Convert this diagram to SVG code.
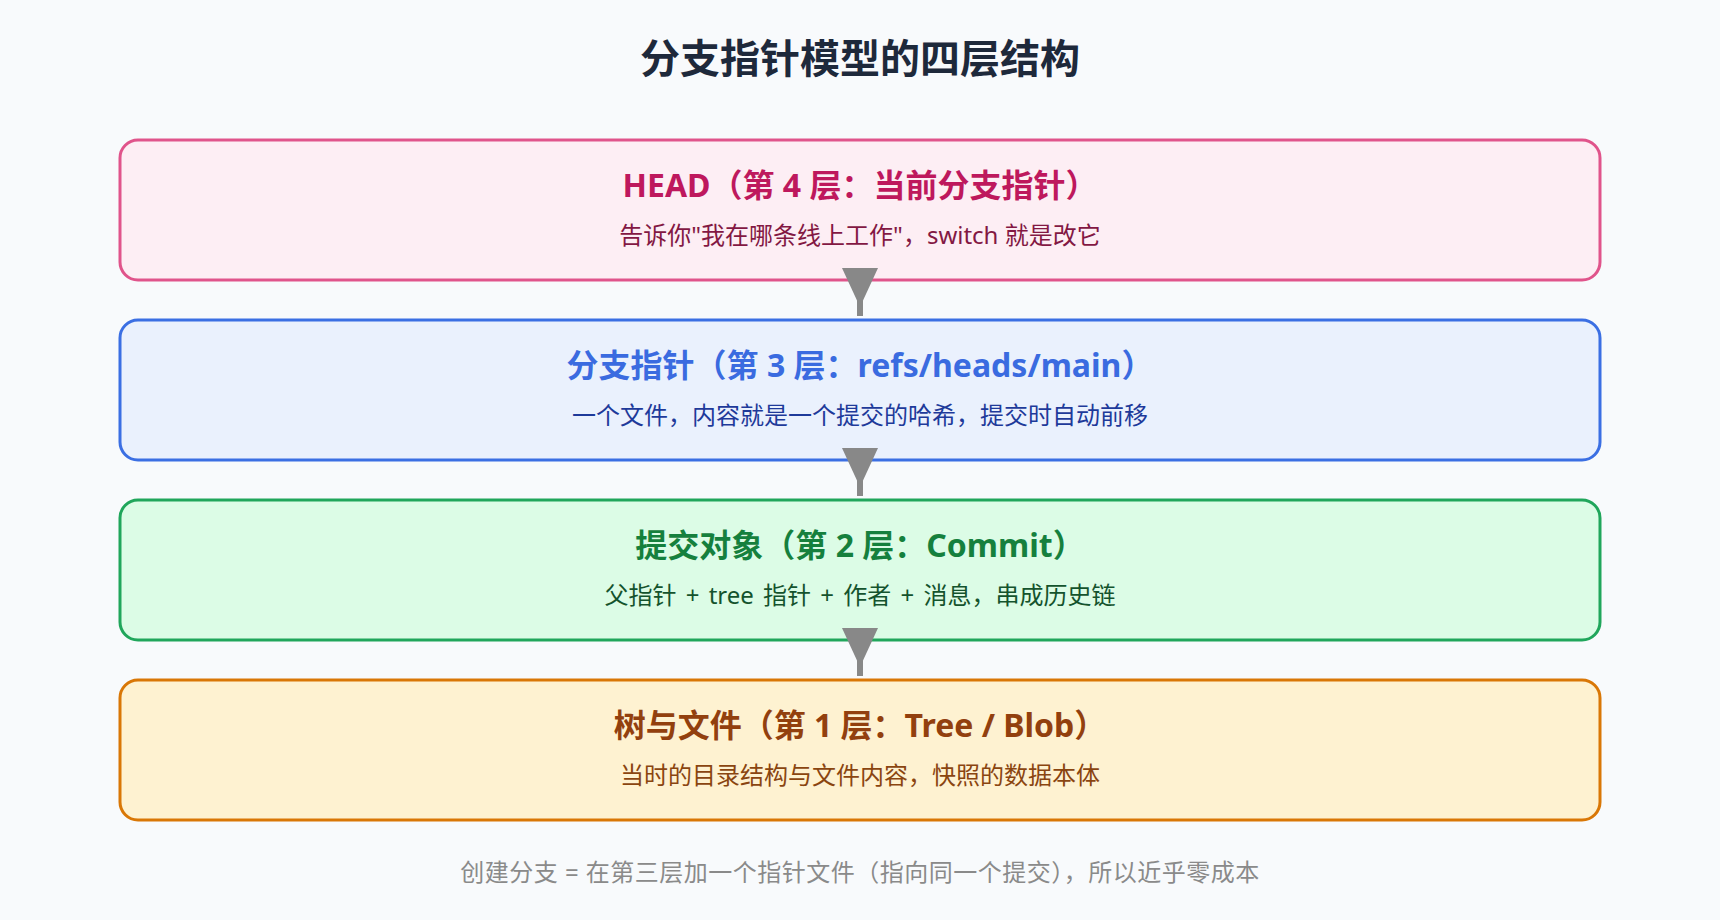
<svg xmlns="http://www.w3.org/2000/svg" width="1720" height="920" viewBox="0 0 1720 920">
  <defs>
    <marker id="arrowhead" markerUnits="userSpaceOnUse" markerWidth="40" markerHeight="36" viewBox="0 0 39 36" refX="0" refY="18" orient="auto">
      <path d="M0,0 L39,18 L0,36 z" fill="#888888"/>
    </marker>
    <style>
      text { font-family: "Noto Sans", "Noto Sans CJK SC", sans-serif; text-anchor: middle; }
      .title { font-size: 40px; font-weight: 700; fill: #1e293b; }
      .hdr { font-size: 32px; font-weight: 700; }
      .sub { font-size: 24px; font-weight: 400; }
      .foot { font-size: 24px; fill: #8a8a8a; letter-spacing: 0.5px; }
      .box { stroke-width: 3; }
      .conn { stroke: #888888; stroke-width: 6; fill: none; }
    </style>
  </defs>
  <rect x="0" y="0" width="1720" height="920" fill="#f8fafc"/>
  <text class="title" x="860" y="73">分支指针模型的四层结构</text>

  <g id="layer4-head">
    <rect class="box" x="120" y="140" width="1480" height="140" rx="18" fill="#fdeef4" stroke="#e0548b"/>
    <text class="hdr" x="860" y="197" fill="#be185d">HEAD（第 4 层：当前分支指针）</text>
    <text class="sub" x="860" y="244" fill="#831843">告诉你"我在哪条线上工作"，switch 就是改它</text>
  </g>

  <g id="layer3-branch">
    <rect class="box" x="120" y="320" width="1480" height="140" rx="18" fill="#eaf1fd" stroke="#3b6fe3"/>
    <text class="hdr" x="860" y="377" fill="#3a6be0">分支指针（第 3 层：refs/heads/main）</text>
    <text class="sub" x="860" y="424" fill="#1e3a9a">一个文件，内容就是一个提交的哈希，提交时自动前移</text>
  </g>

  <g id="layer2-commit">
    <rect class="box" x="120" y="500" width="1480" height="140" rx="18" fill="#dcfce6" stroke="#20a65b"/>
    <text class="hdr" x="860" y="557" fill="#15803d">提交对象（第 2 层：Commit）</text>
    <text class="sub" x="860" y="604" fill="#14532d" word-spacing="3">父指针 + tree 指针 + 作者 + 消息，串成历史链</text>
  </g>

  <g id="layer1-tree">
    <rect class="box" x="120" y="680" width="1480" height="140" rx="18" fill="#fef2d1" stroke="#d97706"/>
    <text class="hdr" x="860" y="737" fill="#92400e">树与文件（第 1 层：Tree / Blob）</text>
    <text class="sub" x="860" y="784" fill="#8a4510">当时的目录结构与文件内容，快照的数据本体</text>
  </g>

  <g id="connectors">
    <line class="conn" x1="860" y1="268" x2="860" y2="316" marker-start="url(#arrowhead)"/>
    <line class="conn" x1="860" y1="448" x2="860" y2="496" marker-start="url(#arrowhead)"/>
    <line class="conn" x1="860" y1="628" x2="860" y2="676" marker-start="url(#arrowhead)"/>
  </g>

  <text class="foot" x="860" y="881">创建分支 = 在第三层加一个指针文件（指向同一个提交），所以近乎零成本</text>
</svg>
